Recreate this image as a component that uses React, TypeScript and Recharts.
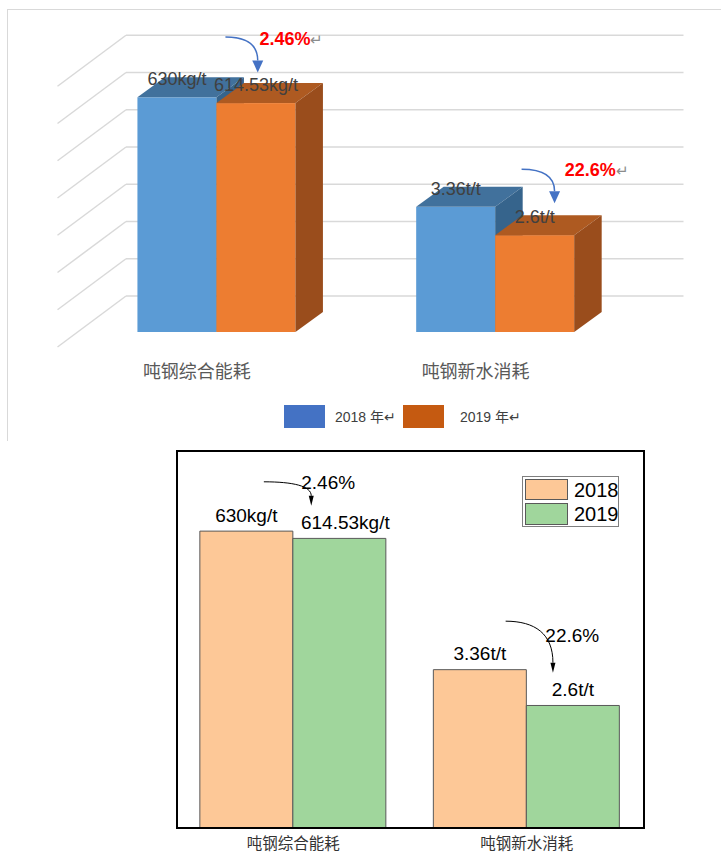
import React from 'react';
import { BarChart, Bar, XAxis, YAxis, CartesianGrid, LabelList, Legend } from 'recharts';

// ---------- data ----------
const CATEGORIES = ['吨钢综合能耗', '吨钢新水消耗'];
const VALUES_2018 = [630, 3.36];
const VALUES_2019 = [614.53, 2.6];
const UNITS = ['kg/t', 't/t'];
const PLOT_DIVISORS = [100, 1]; // energy plotted in units of 100 kg/t
const CHANGE_LABELS = ['2.46%', '22.6%'];
const SERIES_NAMES = ['2018', '2019'];
const TOP_LEGEND_LABELS = ['2018 年↵', '2019 年↵'];
const TOP_Y_TICKS = [0, 1, 2, 3, 4, 5, 6, 7];
const BOTTOM_Y_TICKS = [0, 2, 4, 6, 8];

const rows = CATEGORIES.map((cat, i) => ({
  cat,
  y2018: VALUES_2018[i] / PLOT_DIVISORS[i],
  y2019: VALUES_2019[i] / PLOT_DIVISORS[i],
  l2018: `${VALUES_2018[i]}${UNITS[i]}`,
  l2019: `${VALUES_2019[i]}${UNITS[i]}`,
}));

// ---------- styles ----------
const LATIN = "'Liberation Sans', Arial, 'Noto Sans CJK SC', sans-serif";
const CJK = "'Noto Sans CJK SC', sans-serif";
const TOP_COLORS = {
  blue: { front: '#5B9BD5', top: '#41719C', side: '#36648C' },
  orange: { front: '#ED7D31', top: '#AE5A21', side: '#9A4D1C' },
};
const TOP_LEGEND_COLORS = ['#4472C4', '#C55A11'];
const DEPTH_X = 27.5;
const DEPTH_Y = 20;
const WALL_DX = 48.5;
const WALL_DY = 36;
const FLOOR_DX = 20;
const FLOOR_DY = 15;
const BOTTOM_COLORS = ['#FDC897', '#A0D69C'];

const TOP_ANNOT = [
  { tx: 43, ty: -64, sx: 9, sy: -66, ex: 41.3, ey: -30.7 },
  { tx: 69.5, ty: -65, sx: 26.4, sy: -66, ex: 59.4, ey: -32 },
];
const BOTTOM_ANNOT = [
  { tx: 8.4, ty: -56, sx: -29, sy: -56.6, ex: 18.4, ey: -32.6 },
  { tx: 19, ty: -70, sx: -20.7, sy: -84.3, ex: 26.6, ey: -32.7 },
];
const BOTTOM_LABEL_DX = [[0, 0], [6, 0]];

function arrow(sx: number, sy: number, tx: number, ty: number, color: string, sw: number, hw: number, hl: number) {
  const by = ty - hl;
  const d = `M ${sx} ${sy} C ${sx + (tx - sx) * 0.62} ${sy}, ${tx} ${sy + (by - sy) * 0.3}, ${tx} ${by}`;
  return (
    <g>
      <path d={d} fill="none" stroke={color} strokeWidth={sw} />
      <path d={`M ${tx - hw / 2} ${by} L ${tx + hw / 2} ${by} L ${tx} ${ty} Z`} fill={color} />
    </g>
  );
}

function geom(p: any) {
  const vb = p.viewBox || {};
  return {
    x: Number(p.x ?? vb.x),
    y: Number(p.y ?? vb.y),
    w: Number(p.width ?? vb.width),
    h: Number(p.height ?? vb.height),
  };
}

const box3d = (c: { front: string; top: string; side: string }) => (p: any) => {
  const { x, y, width: w, height: h } = p;
  return (
    <g>
      <rect x={x} y={y} width={w} height={h} fill={c.front} />
      <path d={`M ${x} ${y} L ${x + DEPTH_X} ${y - DEPTH_Y} L ${x + w + DEPTH_X} ${y - DEPTH_Y} L ${x + w} ${y} Z`} fill={c.top} />
      <path d={`M ${x + w} ${y} L ${x + w + DEPTH_X} ${y - DEPTH_Y} L ${x + w + DEPTH_X} ${y + h - DEPTH_Y} L ${x + w} ${y + h} Z`} fill={c.side} />
    </g>
  );
};

const topGridLine = (p: any) => {
  const { x1, x2, y1, index } = p;
  const by = y1 - WALL_DY;
  return (
    <g key={`tg-${index}`}>
      <line x1={x1 + WALL_DX} y1={by} x2={x2 + WALL_DX} y2={by} stroke="#D9D9D9" strokeWidth={1.5} />
      <line x1={x1 - FLOOR_DX} y1={y1 + FLOOR_DY} x2={x1 + WALL_DX} y2={by} stroke="#D9D9D9" strokeWidth={1.5} />
    </g>
  );
};

const topValueLabel = (key: 'l2018' | 'l2019') => (p: any) => {
  const { x, y, w } = geom(p);
  return (
    <text x={x + w / 2} y={y - 18} textAnchor="middle" dominantBaseline="central" fill="#404040" fontSize={18} fontFamily={LATIN}>
      {rows[p.index][key]}
    </text>
  );
};

const topAnnot = (p: any) => {
  const { x, y } = geom(p);
  const a = TOP_ANNOT[p.index];
  return (
    <g>
      {arrow(x + a.sx, y + a.sy, x + a.ex, y + a.ey, '#4472C4', 1.5, 11, 12)}
      <text x={x + a.tx} y={y + a.ty} dominantBaseline="central" fontFamily={LATIN}>
        <tspan fill="#FF0000" fontWeight="bold" fontSize={18}>{CHANGE_LABELS[p.index]}</tspan>
        <tspan fill="#8C8C8C" fontSize={15}>↵</tspan>
      </text>
    </g>
  );
};

const topTick = (p: any) => (
  <text x={p.x - 20} y={p.y + 38} textAnchor="middle" dominantBaseline="central" fill="#595959" fontSize={18} fontFamily={CJK}>
    {p.payload.value}
  </text>
);

const topLegend = () => (
  <div style={{ position: 'relative', width: 0, height: 0 }}>
    {TOP_LEGEND_LABELS.map((lab, i) => (
      <React.Fragment key={lab}>
        <div style={{ position: 'absolute', left: i === 0 ? 284 : 403, top: 405, width: 41, height: 23, background: TOP_LEGEND_COLORS[i] }} />
        <div style={{ position: 'absolute', left: i === 0 ? 335 : 460, top: 407, whiteSpace: 'nowrap', fontSize: 14, lineHeight: '20px', color: '#404040', fontFamily: LATIN }}>
          {lab}
        </div>
      </React.Fragment>
    ))}
  </div>
);

const bottomValueLabel = (key: 'l2018' | 'l2019', s: number) => (p: any) => {
  const { x, y, w } = geom(p);
  return (
    <text x={x + w / 2 + BOTTOM_LABEL_DX[s][p.index]} y={y - 16} textAnchor="middle" dominantBaseline="central" fill="#000" fontSize={19} fontFamily={LATIN}>
      {rows[p.index][key]}
    </text>
  );
};

const bottomAnnot = (p: any) => {
  const { x, y } = geom(p);
  const a = BOTTOM_ANNOT[p.index];
  return (
    <g>
      {arrow(x + a.sx, y + a.sy, x + a.ex, y + a.ey, '#000', 1, 5, 10)}
      <text x={x + a.tx} y={y + a.ty} dominantBaseline="central" fill="#000" fontSize={19} fontFamily={LATIN}>
        {CHANGE_LABELS[p.index]}
      </text>
    </g>
  );
};

const bottomTick = (p: any) => (
  <text x={p.x} y={p.y + 13.5} textAnchor="middle" dominantBaseline="central" fill="#333" fontSize={15.5} fontFamily={CJK}>
    {p.payload.value}
  </text>
);

const bottomLegend = () => (
  <div style={{ position: 'relative', width: 0, height: 0 }}>
    <div style={{ position: 'absolute', left: 522, top: 36, width: 97, height: 51, boxSizing: 'border-box', border: '1px solid #7F7F7F', background: '#fff' }}>
      {SERIES_NAMES.map((n, i) => (
        <div key={n} style={{ position: 'absolute', left: 2, top: i === 0 ? 1.5 : 26, width: 92, height: 22 }}>
          <div style={{ position: 'absolute', left: 0, top: 0, width: 43, height: 21.5, boxSizing: 'border-box', border: '1px solid #595959', background: BOTTOM_COLORS[i] }} />
          <div style={{ position: 'absolute', left: 49, top: 0, fontSize: 20, lineHeight: '22px', color: '#000', fontFamily: LATIN }}>{n}</div>
        </div>
      ))}
    </div>
  </div>
);

export default function App() {
  return (
    <div style={{ position: 'absolute', left: 0, top: 0, width: 721, height: 853, background: '#fff' }}>
      <div style={{ position: 'absolute', left: 7, top: 9, width: 714, height: 431, borderTop: '1px solid #D9D9D9', borderLeft: '1px solid #D9D9D9' }} />
      <div style={{ position: 'absolute', left: 0, top: 0 }}>
        <BarChart width={721} height={440} data={rows} margin={{ top: 71.25, right: 86, bottom: 78, left: 77.5 }} barCategoryGap="21.5%" barGap={0}>
          <CartesianGrid vertical={false} horizontal={topGridLine} />
          <XAxis dataKey="cat" height={30} axisLine={false} tickLine={false} tickSize={0} tickMargin={0} tick={topTick} interval={0} />
          <YAxis hide domain={[0, 7]} ticks={TOP_Y_TICKS} />
          <Legend content={topLegend} wrapperStyle={{ left: 0, top: 0, width: 0, height: 0 }} />
          <Bar dataKey="y2018" name={SERIES_NAMES[0]} isAnimationActive={false} shape={box3d(TOP_COLORS.blue)}>
            <LabelList dataKey="y2018" content={topValueLabel('l2018')} />
          </Bar>
          <Bar dataKey="y2019" name={SERIES_NAMES[1]} isAnimationActive={false} shape={box3d(TOP_COLORS.orange)}>
            <LabelList dataKey="y2019" content={topValueLabel('l2019')} />
            <LabelList dataKey="y2019" content={topAnnot} />
          </Bar>
        </BarChart>
      </div>
      <div style={{ position: 'absolute', left: 0, top: 440 }}>
        <BarChart width={721} height={413} data={rows} margin={{ top: 11, right: 77.5, bottom: 0, left: 176.5 }} barCategoryGap="10%" barGap={0}>
          <XAxis dataKey="cat" height={25} axisLine={false} tickLine={false} tickSize={0} tickMargin={0} tick={bottomTick} interval={0} />
          <YAxis hide domain={[0, 8]} ticks={BOTTOM_Y_TICKS} />
          <Legend content={bottomLegend} wrapperStyle={{ left: 0, top: 0, width: 0, height: 0 }} />
          <Bar dataKey="y2018" name={SERIES_NAMES[0]} fill={BOTTOM_COLORS[0]} stroke="#595959" strokeWidth={1} isAnimationActive={false}>
            <LabelList dataKey="y2018" content={bottomValueLabel('l2018', 0)} />
          </Bar>
          <Bar dataKey="y2019" name={SERIES_NAMES[1]} fill={BOTTOM_COLORS[1]} stroke="#595959" strokeWidth={1} isAnimationActive={false}>
            <LabelList dataKey="y2019" content={bottomValueLabel('l2019', 1)} />
            <LabelList dataKey="y2019" content={bottomAnnot} />
          </Bar>
        </BarChart>
        <div style={{ position: 'absolute', left: 175.5, top: 10, width: 469, height: 379, boxSizing: 'border-box', border: '2px solid #000', pointerEvents: 'none' }} />
      </div>
    </div>
  );
}
